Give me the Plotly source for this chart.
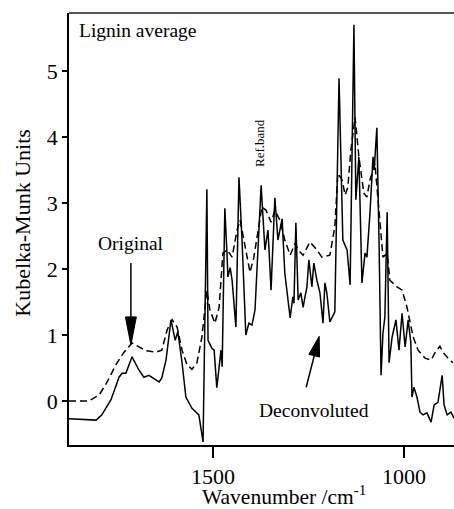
import plotly.graph_objects as go

# Deconvoluted spectrum (solid line)
wn_deconv = [1877, 1806, 1791, 1767, 1746, 1738, 1728, 1712, 1694, 1681, 1668, 1649, 1641, 1634,
             1623, 1610, 1599, 1592, 1581, 1571, 1555, 1537, 1531, 1526, 1516, 1513, 1503, 1497,
             1490, 1479, 1476, 1469, 1463, 1461, 1455, 1450, 1440, 1432, 1424, 1414, 1406, 1398,
             1390, 1382, 1374, 1364, 1356, 1348, 1338, 1330, 1319, 1312, 1306, 1298, 1291, 1288,
             1283, 1277, 1270, 1264, 1259, 1254, 1249, 1241, 1236, 1228, 1220, 1212, 1207, 1202,
             1194, 1181, 1170, 1160, 1149, 1141, 1131, 1126, 1118, 1110, 1102, 1097, 1089, 1081,
             1078, 1071, 1065, 1060, 1055, 1050, 1044, 1039, 1031, 1021, 1013, 1005, 997, 989,
             982, 979, 974, 966, 958, 950, 940, 929, 921, 911, 900, 895, 887, 877, 869]
km_deconv = [-0.27, -0.29, -0.21, 0.02, 0.36, 0.42, 0.42, 0.67, 0.47, 0.36, 0.39, 0.32, 0.29, 0.35,
             0.62, 1.23, 0.92, 1.05, 0.58, 0.06, -0.11, -0.21, -0.44, -0.62, 3.21, 0.92, 0.80, 0.77,
             0.20, 0.77, 0.52, 2.92, 2.18, 1.88, 2.02, 1.83, 1.12, 3.39, 2.44, 1.00, 1.18, 1.15,
             1.38, 2.39, 3.27, 2.29, 2.59, 1.68, 3.08, 2.44, 2.76, 1.94, 1.68, 1.26, 1.58, 1.48,
             2.70, 1.53, 1.64, 1.42, 1.58, 1.73, 2.14, 1.73, 2.09, 1.83, 1.64, 1.18, 1.79, 1.64,
             1.20, 1.35, 4.89, 2.44, 2.29, 1.76, 5.70, 3.05, 3.70, 1.79, 2.24, 2.18, 2.85, 3.70,
             3.50, 4.14, 2.33, 0.39, 1.03, 1.27, 2.86, 0.58, 0.97, 1.23, 0.77, 1.33, 0.82, 1.23,
             0.88, 0.06, 0.21, 0.06, -0.17, -0.21, -0.18, -0.32, -0.06, -0.02, 0.39, -0.06, -0.21,
             -0.17, -0.26]

# Original spectrum (dashed line)
wn_orig = [1877, 1825, 1798, 1777, 1754, 1733, 1712, 1694, 1675, 1649, 1634, 1620, 1607, 1594,
           1581, 1568, 1555, 1542, 1529, 1516, 1508, 1495, 1484, 1474, 1463, 1450, 1437, 1429,
           1416, 1403, 1393, 1382, 1372, 1361, 1348, 1338, 1325, 1312, 1298, 1285, 1277, 1264,
           1246, 1228, 1215, 1194, 1181, 1173, 1162, 1154, 1147, 1139, 1128, 1118, 1105, 1097,
           1089, 1076, 1068, 1060, 1055, 1044, 1037, 1018, 1005, 992, 984, 976, 963, 945, 929,
           919, 906, 898, 885, 872]
km_orig = [0.00, 0.00, 0.09, 0.29, 0.55, 0.74, 0.88, 0.82, 0.76, 0.74, 0.77, 1.08, 1.23, 1.12,
           0.77, 0.55, 0.48, 0.58, 0.97, 1.68, 1.38, 1.18, 1.42, 2.24, 2.29, 2.18, 2.59, 2.74,
           2.33, 1.95, 2.18, 2.59, 2.94, 2.89, 2.71, 2.89, 2.74, 2.44, 2.21, 2.39, 2.29, 2.21,
           2.41, 2.29, 2.18, 2.21, 2.64, 3.45, 3.35, 3.12, 3.24, 3.80, 4.30, 3.70, 3.15, 3.09,
           3.35, 3.60, 3.09, 2.48, 2.18, 2.24, 1.83, 1.73, 1.68, 1.42, 1.18, 0.97, 0.77, 0.65,
           0.62, 0.73, 0.83, 0.74, 0.65, 0.58]

x_ticks = [1500, 1000]
y_ticks = [0, 1, 2, 3, 4, 5]

SERIF = "Liberation Serif, Times New Roman, serif"

fig = go.Figure()
fig.add_trace(go.Scatter(x=wn_orig, y=km_orig, mode="lines", name="Original",
                         line=dict(color="black", width=1.5, dash="7px,4px")))
fig.add_trace(go.Scatter(x=wn_deconv, y=km_deconv, mode="lines", name="Deconvoluted",
                         line=dict(color="black", width=1.5)))


def arrow_shapes(x_tip, y_tip, dx_tail, dy_tail, head_len, head_w):
    """Arrow drawn in pixel offsets (y up) anchored at its tip in data coordinates."""
    length = (dx_tail ** 2 + dy_tail ** 2) ** 0.5
    ux, uy = dx_tail / length, dy_tail / length
    px, py = -uy, ux
    bx, by = ux * head_len, uy * head_len
    c1 = (bx + px * head_w / 2, by + py * head_w / 2)
    c2 = (bx - px * head_w / 2, by - py * head_w / 2)
    common = dict(xref="x", yref="y", xsizemode="pixel", ysizemode="pixel",
                  xanchor=x_tip, yanchor=y_tip)
    shaft = dict(type="path", path=f"M{bx:.2f},{by:.2f} L{dx_tail:.2f},{dy_tail:.2f}",
                 line=dict(color="black", width=1.5), **common)
    head = dict(type="path",
                path=f"M0,0 L{c1[0]:.2f},{c1[1]:.2f} L{c2[0]:.2f},{c2[1]:.2f} Z",
                fillcolor="black", line=dict(color="black", width=1), **common)
    return [shaft, head]


shapes = []
shapes += arrow_shapes(1715, 0.85, 0, 82, 28, 11)
shapes += arrow_shapes(1222, 0.98, -13, -51, 20, 11)
# top frame line
shapes.append(dict(type="line", xref="paper", yref="paper", x0=0, x1=1, y0=1, y1=1,
                   line=dict(color="#555555", width=2)))

annotations = [
    dict(text="Lignin average", xref="paper", yref="paper", x=0.021, y=0.96,
         xanchor="left", yanchor="middle", showarrow=False, font=dict(size=19.5)),
    dict(text="Original", xref="x", yref="y", x=1715, y=2.38,
         xanchor="center", yanchor="middle", showarrow=False, font=dict(size=19.5)),
    dict(text="Deconvoluted", xref="x", yref="y", x=1236, y=-0.14,
         xanchor="center", yanchor="middle", showarrow=False, font=dict(size=19.5)),
    dict(text="Ref.band", xref="x", yref="y", x=1377, y=3.91, textangle=-90,
         xanchor="center", yanchor="middle", showarrow=False, font=dict(size=13)),
    dict(text="Wavenumber /cm<sup>-1</sup>", xref="paper", yref="paper", x=0.558, y=-0.152,
         xanchor="center", yanchor="bottom", showarrow=False, font=dict(size=21.5)),
    dict(text="Kubelka-Munk Units", xref="paper", yref="paper", x=-0.12, y=0.514,
         textangle=-90, xanchor="center", yanchor="middle", showarrow=False,
         font=dict(size=22)),
]

fig.update_layout(
    width=454, height=509,
    margin=dict(l=69, r=0, t=13, b=64),
    paper_bgcolor="white", plot_bgcolor="white",
    showlegend=False,
    font=dict(family=SERIF, color="black"),
    shapes=shapes,
    annotations=annotations,
    xaxis=dict(range=[1877, 869], tickvals=x_ticks, ticks="outside", ticklen=11,
               tickwidth=1.5, tickcolor="black", showline=True, linecolor="black",
               linewidth=1.5, showgrid=False, zeroline=False, tickfont=dict(size=22)),
    yaxis=dict(range=[-0.667, 5.88], tickvals=y_ticks, ticks="outside", ticklen=5,
               tickwidth=1.5, tickcolor="black", showline=True, linecolor="black",
               linewidth=1.5, showgrid=False, zeroline=False, tickfont=dict(size=22)),
)

fig.write_html("out.html")
